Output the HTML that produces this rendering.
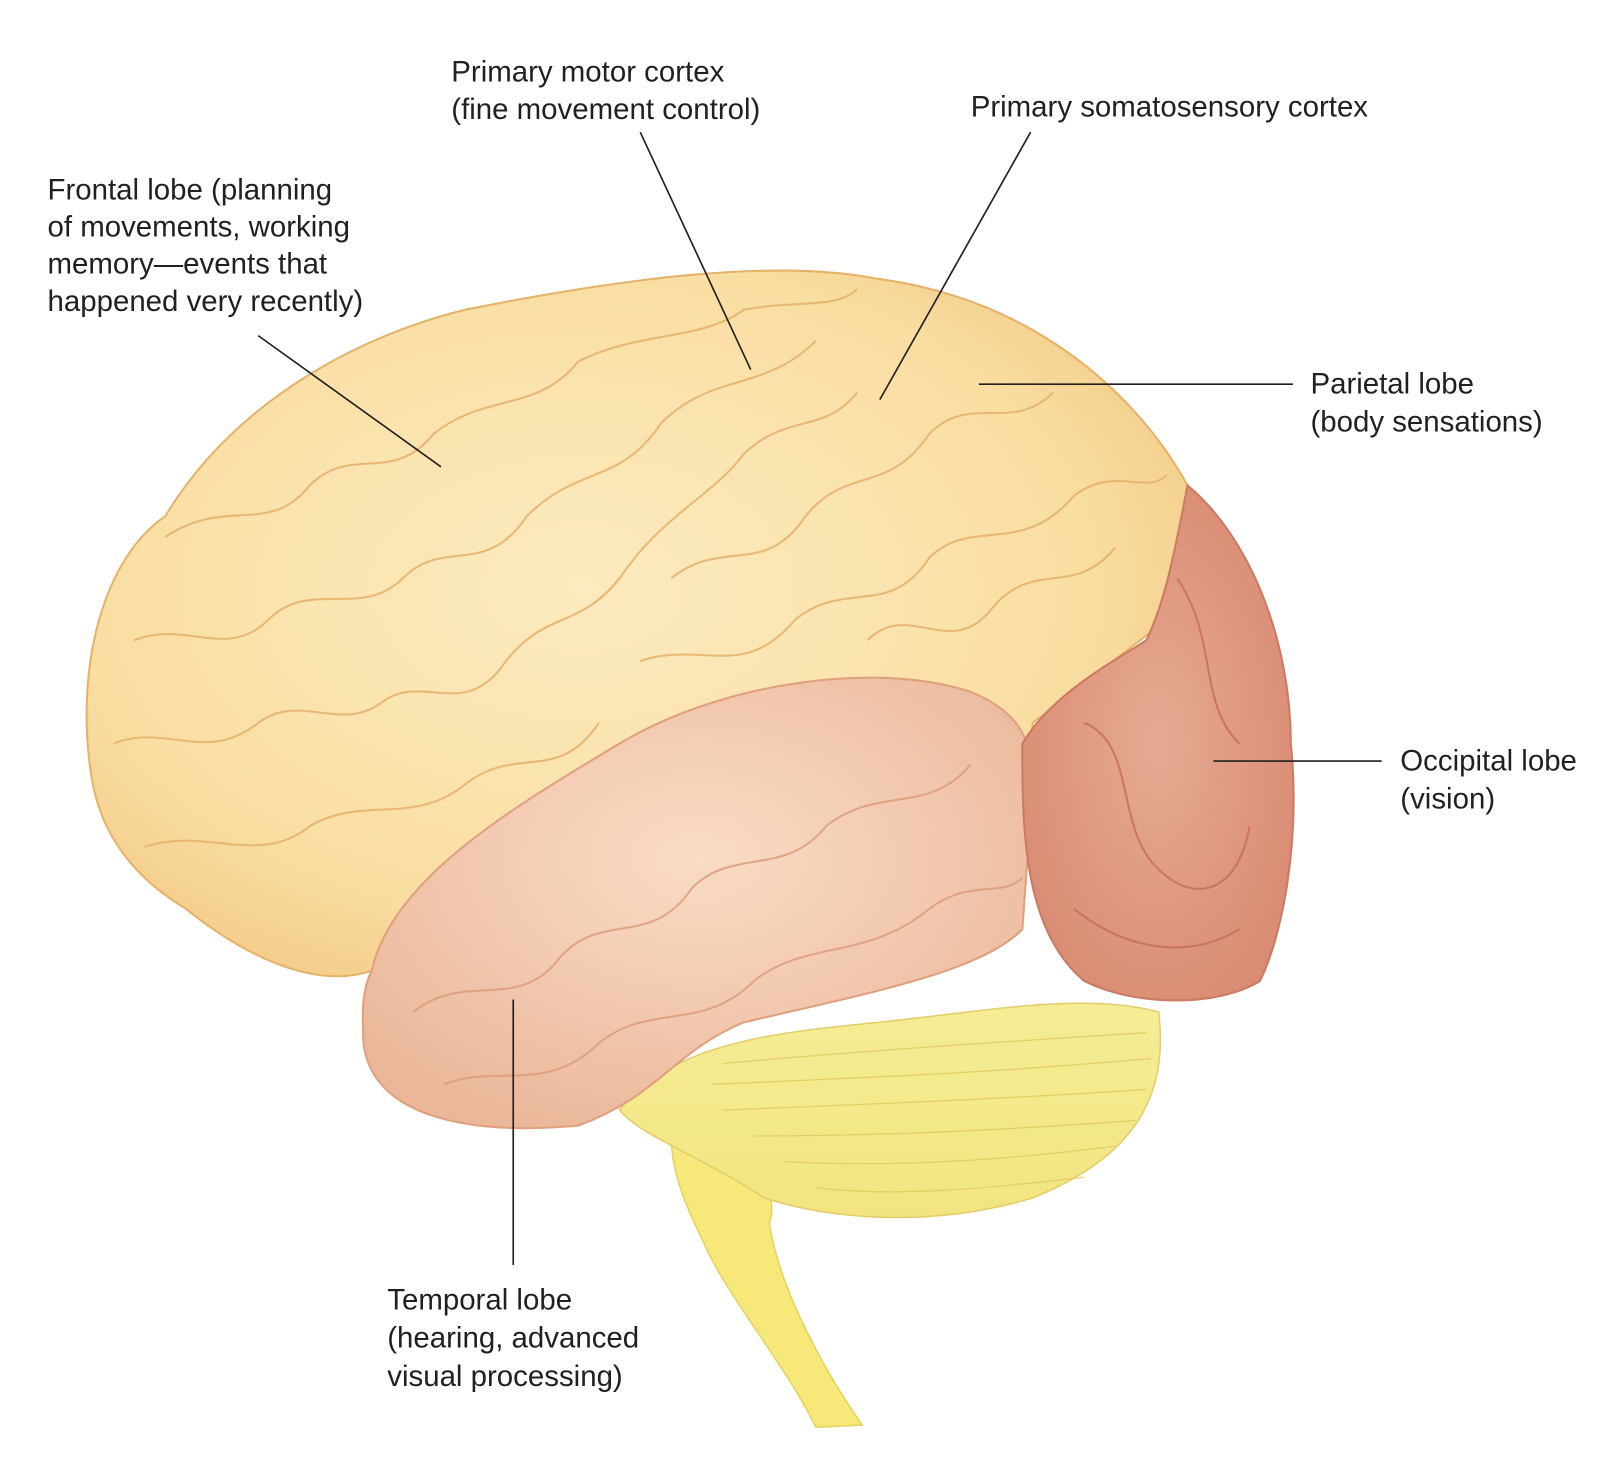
<!DOCTYPE html>
<html><head><meta charset="utf-8"><style>
html,body{margin:0;padding:0;background:#fff;}
svg{display:block;}
text{font-family:"Liberation Sans",sans-serif;font-size:28.5px;fill:#231f20;}
</style></head><body>
<svg width="1612" height="1469" viewBox="0 0 1561 1422.5" xmlns="http://www.w3.org/2000/svg">
<defs>
<radialGradient id="gy" cx="45%" cy="45%" r="65%"><stop offset="0" stop-color="#fcebc0"/><stop offset="0.7" stop-color="#f9dea2"/><stop offset="1" stop-color="#f1c883"/></radialGradient>
<radialGradient id="gt" cx="50%" cy="40%" r="65%"><stop offset="0" stop-color="#f9dcc6"/><stop offset="1" stop-color="#ebb79a"/></radialGradient>
<radialGradient id="go" cx="50%" cy="50%" r="60%"><stop offset="0" stop-color="#e6aa92"/><stop offset="1" stop-color="#d98a72"/></radialGradient>
<linearGradient id="gc" x1="0" y1="0" x2="0" y2="1"><stop offset="0" stop-color="#f5ed95"/><stop offset="1" stop-color="#f2e480"/></linearGradient>
</defs>
<path d="M650,1100 C700,1100 760,1140 745,1185 C755,1250 800,1330 835,1380 L790,1382 C760,1320 700,1250 680,1200 C660,1160 650,1130 650,1100Z" fill="#f6e97a" stroke="#e8d060" stroke-width="1.5"/>
<path d="M600,1075 C650,1010 750,1000 850,990 C950,980 1050,960 1122,980 C1132,1060 1100,1120 1000,1160 C900,1190 800,1180 740,1160 C680,1120 620,1100 600,1075Z" fill="url(#gc)" stroke="#e4cc6a" stroke-width="1.5"/>
<g fill="none" stroke="#e0c660" stroke-width="1.2" opacity="0.8">
<path d="M700,1030 C800,1020 950,1010 1110,1000"/><path d="M690,1050 C800,1045 950,1040 1115,1025"/><path d="M700,1075 C820,1070 960,1065 1110,1055"/><path d="M730,1100 C850,1100 960,1095 1100,1085"/><path d="M760,1125 C860,1130 960,1125 1080,1110"/><path d="M790,1150 C870,1160 960,1150 1050,1140"/>
</g>
<path d="M90,760 C70,650 100,540 160,500 C220,400 330,330 450,300 C600,270 750,250 850,270 C1000,290 1100,380 1150,470 L1130,600 1000,700 L990,880 C900,900 700,870 600,880 C480,900 420,880 360,940 C300,960 230,920 180,880 C130,850 100,810 90,760Z" fill="url(#gy)" stroke="#e6b26a" stroke-width="2"/>
<path d="M360,940 C380,850 500,780 600,720 C700,660 850,640 940,670 C990,690 1000,720 1000,760 L990,900 C950,940 850,960 720,990 C650,1020 640,1060 560,1090 C450,1100 360,1080 352,1010 C350,975 352,955 360,940 Z" fill="url(#gt)" stroke="#e0a07e" stroke-width="2"/>
<path d="M1150,470 C1210,520 1250,620 1250,720 C1260,820 1240,910 1220,950 C1180,975 1100,975 1050,950 C990,900 990,800 990,720 C1020,670 1080,640 1110,620 C1130,580 1140,520 1150,470Z" fill="url(#go)" stroke="#cc7a62" stroke-width="2"/>
<g fill="none" stroke="#e5b06a" stroke-width="2" opacity="0.85">
<path d="M160,520 C220,480 260,520 300,470 C340,430 380,470 420,420 C470,380 520,400 560,350 C620,320 680,330 720,300 C770,290 810,300 830,280"/>
<path d="M130,620 C180,600 220,640 260,600 C300,560 350,600 390,560 C430,520 470,560 510,500 C560,450 600,470 640,410 C690,360 740,380 790,330"/>
<path d="M110,720 C160,700 200,740 250,700 C290,670 330,710 370,680 C410,650 450,700 490,640 C530,590 560,610 600,560 C640,500 690,480 720,440 C760,400 800,420 830,380"/>
<path d="M140,820 C200,800 250,840 300,800 C350,770 400,800 450,760 C500,720 540,760 580,700"/>
<path d="M650,560 C700,520 740,560 780,500 C820,450 860,480 900,420 C940,380 980,420 1020,380"/>
<path d="M620,640 C680,620 720,660 770,600 C820,560 860,600 900,540 C940,500 990,540 1040,480 C1080,450 1110,480 1130,460"/>
<path d="M840,620 C880,580 920,640 960,590 C1000,540 1040,580 1080,530"/>
</g>
<g fill="none" stroke="#dc9a78" stroke-width="2" opacity="0.8">
<path d="M400,980 C450,940 500,980 540,930 C580,880 630,920 670,860 C710,820 760,850 800,800 C850,760 900,790 940,740"/>
<path d="M430,1050 C480,1030 530,1060 580,1010 C630,970 680,1000 730,950 C780,910 840,930 900,880 C940,850 970,870 990,850"/>
</g>
<g fill="none" stroke="#c46d58" stroke-width="2" opacity="0.8">
<path d="M1050,700 C1100,720 1080,800 1120,840 C1160,880 1200,860 1210,800"/>
<path d="M1040,880 C1090,920 1150,930 1200,900"/>
<path d="M1140,560 C1180,620 1160,680 1200,720"/>
</g>
<g stroke="#231f20" stroke-width="1.6">
<line x1="250" y1="325" x2="427" y2="452"/>
<line x1="620" y1="128" x2="727" y2="358"/>
<line x1="998" y1="128" x2="852" y2="387"/>
<line x1="948" y1="372" x2="1252" y2="372"/>
<line x1="1175" y1="737" x2="1338" y2="737"/>
<line x1="497" y1="968" x2="497" y2="1225"/>
</g>
<text x="437" y="79">Primary motor cortex</text>
<text x="437" y="115">(fine movement control)</text>
<text x="940" y="113">Primary somatosensory cortex</text>
<text x="46" y="193">Frontal lobe (planning</text>
<text x="46" y="229">of movements, working</text>
<text x="46" y="265">memory—events that</text>
<text x="46" y="301">happened very recently)</text>
<text x="1269" y="381">Parietal lobe</text>
<text x="1269" y="418">(body sensations)</text>
<text x="1356" y="746">Occipital lobe</text>
<text x="1356" y="783">(vision)</text>
<text x="375" y="1268">Temporal lobe</text>
<text x="375" y="1305">(hearing, advanced</text>
<text x="375" y="1342">visual processing)</text>
</svg>
</body></html>
